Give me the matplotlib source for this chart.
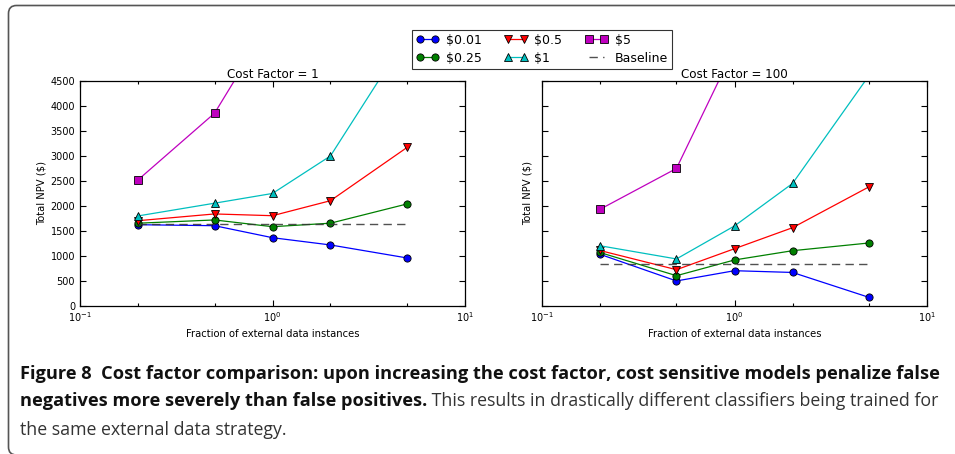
import matplotlib
matplotlib.use("Agg")
import matplotlib.pyplot as plt
import matplotlib.transforms as mtransforms
from matplotlib.path import Path
from matplotlib.patches import PathPatch
from matplotlib.ticker import FixedLocator, NullFormatter, LogFormatterMathtext

# ---------------- data ----------------
fractions = [0.2, 0.5, 1.0, 2.0, 5.0]
series_labels = ["$0.01", "$0.25", "$0.5", "$1", "$5"]

cf1_001 = [1620, 1600, 1360, 1215, 955]
cf1_025 = [1650, 1715, 1580, 1650, 2035]
cf1_05 = [1700, 1835, 1800, 2100, 3165]
cf1_1 = [1795, 2050, 2245, 2995, 5390]
cf1_5 = [2515, 3850, 5750, 7200, 9000]
cf1_baseline = 1635

cf100_001 = [1030, 495, 700, 665, 165]
cf100_025 = [1065, 600, 915, 1100, 1255]
cf100_05 = [1105, 720, 1140, 1560, 2380]
cf100_1 = [1200, 935, 1595, 2445, 4610]
cf100_5 = [1925, 2745, 5150, 6500, 8000]
cf100_baseline = 840

panel_titles = ["Cost Factor = 1", "Cost Factor = 100"]
yticks = [0, 500, 1000, 1500, 2000, 2500, 3000, 3500, 4000, 4500]
xlabel = "Fraction of external data instances"
ylabel = "Total NPV ($)"
caption_bold1 = "Figure 8  Cost factor comparison: upon increasing the cost factor, cost sensitive models penalize false"
caption_bold2 = "negatives more severely than false positives."
caption_reg2 = " This results in drastically different classifiers being trained for"
caption_reg3 = "the same external data strategy."

colors = ["#0000ff", "#008000", "#ff0000", "#00bfbf", "#bf00bf"]
markers = ["o", "o", "v", "^", "s"]

W, H = 955, 454
fig = plt.figure(figsize=(W / 100, H / 100), dpi=100)
fig.patch.set_facecolor("white")

def px_axes(l, t, r, b):
    return [l / W, 1 - b / H, (r - l) / W, (b - t) / H]

ax1 = fig.add_axes(px_axes(80, 80.7, 465, 305.7))
ax2 = fig.add_axes(px_axes(541.7, 80.7, 927.3, 305.7))

panels = [
    (ax1, [cf1_001, cf1_025, cf1_05, cf1_1, cf1_5], cf1_baseline),
    (ax2, [cf100_001, cf100_025, cf100_05, cf100_1, cf100_5], cf100_baseline),
]

handles = []
for i, (ax, data, base) in enumerate(panels):
    hs = []
    for vals, c, m, lab in zip(data, colors, markers, series_labels):
        h, = ax.plot(fractions, vals, color=c, marker=m, markersize=5.2,
                     markeredgecolor="black", markeredgewidth=0.6,
                     linewidth=0.9, label=lab, clip_on=True)
        hs.append(h)
    hb, = ax.plot([fractions[0], fractions[-1]], [base, base], color="#333333",
                  linestyle=(0, (6, 3.8)), linewidth=1.0, label="Baseline", alpha=0.85)
    hs.append(hb)
    if i == 0:
        handles = hs
    ax.set_xscale("log")
    ax.set_xlim(0.1, 10)
    ax.set_ylim(0, 4500)
    ax.set_yticks(yticks)
    ax.xaxis.set_major_locator(FixedLocator([0.1, 1, 10]))
    ax.xaxis.set_major_formatter(LogFormatterMathtext())
    ax.xaxis.set_minor_locator(FixedLocator([0.2, 0.5, 2, 5]))
    ax.xaxis.set_minor_formatter(NullFormatter())
    ax.tick_params(which="both", direction="in", top=True, right=True,
                   labelsize=7, width=0.8, colors="black")
    ax.tick_params(which="major", length=4)
    ax.tick_params(which="minor", length=2)
    ax.set_title(panel_titles[i], fontsize=8.6, pad=2)
    ax.set_xlabel(xlabel, fontsize=7.2, labelpad=3)
    ax.set_ylabel(ylabel, fontsize=7.2, labelpad=3)
    for sp in ax.spines.values():
        sp.set_linewidth(0.9)
    if i == 1:
        ax.set_yticklabels([])

# legend
leg = fig.legend(
    [handles[0], handles[1], handles[2], handles[3], handles[4], handles[5]],
    ["$0.01", "$0.25", "$0.5", "$1", "$5", "Baseline"],
    ncol=3, loc="upper center", bbox_to_anchor=(542 / W, 1 - 30 / H),
    fontsize=9, numpoints=2, frameon=True, fancybox=False,
    handlelength=1.85, handletextpad=0.55, columnspacing=1.8,
    borderpad=0.3, labelspacing=0.4, markerscale=1.0, borderaxespad=0,
)
leg.get_frame().set_edgecolor("black")
leg.get_frame().set_linewidth(0.8)

# border (pixel coordinates, y downwards)
pxT = mtransforms.Affine2D().scale(1, -1).translate(0, H).scale(1 / 100) + fig.dpi_scale_trans
r = 8
x0, y0, y1 = 8.5, 5.5, 455
verts = [(W + 10, y0), (x0 + r, y0), (x0, y0), (x0, y0 + r), (x0, y1 - r),
         (x0, y1), (x0 + r, y1), (W + 10, y1)]
codes = [Path.MOVETO, Path.LINETO, Path.CURVE3, Path.CURVE3, Path.LINETO,
         Path.CURVE3, Path.CURVE3, Path.LINETO]
fig.add_artist(PathPatch(Path(verts, codes), transform=pxT, facecolor="none",
                         edgecolor="#555555", linewidth=1.2, clip_on=False))

# caption
cap_font = "Open Sans"
fig.canvas.draw()
renderer = fig.canvas.get_renderer()
probe = fig.text(0, 0, caption_bold1, fontsize=10, fontweight="bold", family=cap_font)
wpx = probe.get_window_extent(renderer).width
probe.remove()
target = 943 - 20
fs = 10 * target / wpx

cx = 20
b1, b2, b3 = 379, 405.5, 435
t1 = fig.text(cx, b1, caption_bold1, transform=pxT, fontsize=fs, fontweight="bold",
              family=cap_font, color="#111111", va="baseline", ha="left")
t2 = fig.text(cx, b2, caption_bold2, transform=pxT, fontsize=fs, fontweight="bold",
              family=cap_font, color="#111111", va="baseline", ha="left")
fig.canvas.draw()
bb = t2.get_window_extent(renderer)
probe = fig.text(0, 0, caption_reg2, fontsize=10, family=cap_font)
wreg = probe.get_window_extent(renderer).width
probe.remove()
fs_reg = 10 * (940 - bb.x1) / wreg
t2r = fig.text(bb.x1 / 100, (H - b2) / 100, caption_reg2,
               transform=fig.dpi_scale_trans, fontsize=fs_reg, family=cap_font,
               color="#333333", va="baseline", ha="left")
t3 = fig.text(cx, b3, caption_reg3, transform=pxT, fontsize=fs_reg,
              family=cap_font, color="#333333", va="baseline", ha="left")

fig.savefig("out.png", dpi=100, facecolor="white")
